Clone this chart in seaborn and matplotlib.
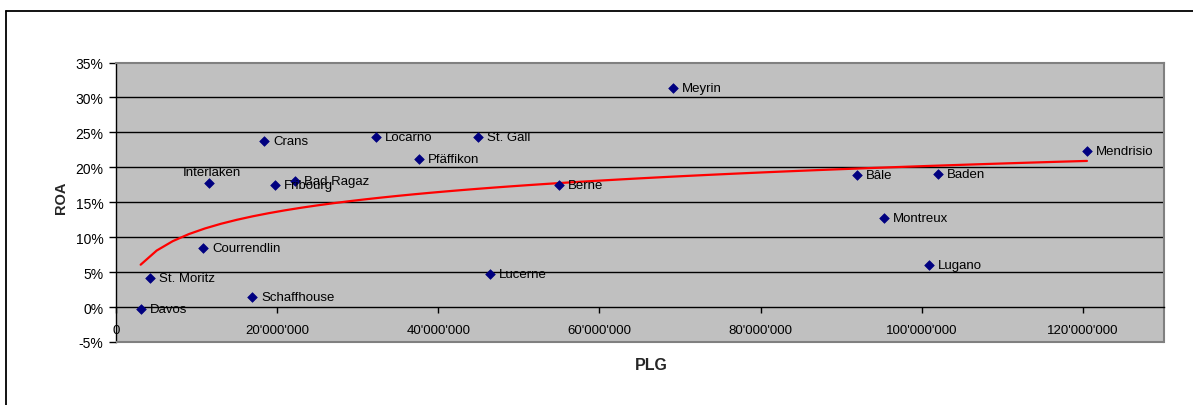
import numpy as np
import pandas as pd
import matplotlib
matplotlib.use("Agg")
import matplotlib.pyplot as plt
from matplotlib.lines import Line2D
from matplotlib.patches import Rectangle
from matplotlib.ticker import FuncFormatter, MultipleLocator
import seaborn as sns

# Casino sites: gross gaming revenue (PLG, CHF) against return on assets (ROA)
sites = ["Davos", "St. Moritz", "Courrendlin", "Interlaken", "Schaffhouse",
         "Crans", "Fribourg", "Bad Ragaz", "Locarno", "Pfäffikon",
         "St. Gall", "Lucerne", "Berne", "Meyrin", "Bâle", "Montreux",
         "Lugano", "Baden", "Mendrisio"]
plg = [3.06e6, 4.2e6, 10.8e6, 11.6e6, 16.9e6,
       18.4e6, 19.7e6, 22.2e6, 32.3e6, 37.6e6,
       44.9e6, 46.4e6, 55.0e6, 69.1e6, 92.0e6, 95.3e6,
       100.9e6, 102.0e6, 120.5e6]
roa = [-0.003, 0.041, 0.085, 0.177, 0.015,
       0.238, 0.174, 0.181, 0.244, 0.212,
       0.244, 0.048, 0.174, 0.313, 0.189, 0.127,
       0.060, 0.190, 0.224]

df = pd.DataFrame({"site": sites, "PLG": plg, "ROA": roa})

# Logarithmic trend: ROA = a*ln(PLG) + b
a, b = np.polyfit(np.log(df["PLG"]), df["ROA"], 1)
xs = np.linspace(df["PLG"].min(), df["PLG"].max(), 60)
trend = pd.DataFrame({"PLG": xs, "ROA": a * np.log(xs) + b})

sns.set_style("white")
plt.rcParams["font.family"] = ["Liberation Sans", "DejaVu Sans"]

W, H = 1193, 406
fig = plt.figure(figsize=(W / 100, H / 100), dpi=100)
ax = fig.add_axes([116 / W, 1 - 343 / H, (1163.5 - 116) / W, (343 - 63.5) / H])
ax.set_facecolor("#C0C0C0")

# Outer chart frame (top and left edges fall inside the canvas)
frame_x, frame_y = 6.5 / W, 1 - 12 / H
fig.lines.append(Line2D([frame_x, 1.0], [frame_y, frame_y], transform=fig.transFigure,
                        color="black", linewidth=1.3))
fig.lines.append(Line2D([frame_x, frame_x], [0.0, frame_y], transform=fig.transFigure,
                        color="black", linewidth=1.3))

ax.set_xlim(0, 130e6)
ax.set_ylim(-0.05, 0.35)

for yv in np.arange(0.05, 0.31, 0.05):
    ax.axhline(yv, color="black", linewidth=1.0, zorder=1)

sns.lineplot(data=trend, x="PLG", y="ROA", ax=ax, color="red", linewidth=1.6,
             zorder=3, legend=False)
sns.scatterplot(data=df, x="PLG", y="ROA", ax=ax, marker="D", s=24,
                color="#000080", edgecolor="#000080", linewidth=0.5, zorder=4)

for name, xv, yv in zip(df["site"], df["PLG"], df["ROA"]):
    if name == "Interlaken":
        ax.annotate(name, (xv, yv), xytext=(2, 8), textcoords="offset points",
                    ha="center", va="center", fontsize=9.5, color="black", zorder=5)
    else:
        ax.annotate(name, (xv, yv), xytext=(6.5, 0), textcoords="offset points",
                    ha="left", va="center", fontsize=9.5, color="black", zorder=5)

# Axes: y axis on the left, x axis crossing at ROA = 0
for side in ["top", "right"]:
    ax.spines[side].set_visible(True)
    ax.spines[side].set_color("#808080")
    ax.spines[side].set_linewidth(1.5)
ax.spines["left"].set_color("black")
ax.spines["left"].set_linewidth(1.0)
ax.spines["bottom"].set_position(("data", 0))
ax.spines["bottom"].set_color("black")
ax.spines["bottom"].set_linewidth(1.0)
ax.add_patch(Rectangle((0, 0), 1, 0, transform=ax.transAxes, fill=False,
                       edgecolor="#808080", linewidth=1.5, clip_on=False, zorder=6))

ax.xaxis.set_major_locator(MultipleLocator(20e6))
ax.yaxis.set_major_locator(MultipleLocator(0.05))
ax.xaxis.set_major_formatter(FuncFormatter(lambda v, p: f"{int(round(v)):,}".replace(",", "'")))
ax.yaxis.set_major_formatter(FuncFormatter(lambda v, p: f"{v * 100:.0f}%"))
ax.tick_params(axis="x", direction="out", length=4, width=1, color="black",
               labelsize=9.5, pad=8, labelcolor="black", bottom=True)
ax.tick_params(axis="y", direction="out", length=5, width=1, color="black",
               labelsize=10, pad=4, labelcolor="black", left=True)

ax.set_xlabel("")
ax.set_ylabel("")
fig.text(60.5 / W, 1 - 198 / H, "ROA", rotation=90, ha="center", va="center",
         fontsize=10.5, fontweight="bold")
fig.text(651.5 / W, 1 - 366 / H, "PLG", ha="center", va="center",
         fontsize=11.5, fontweight="bold")

fig.savefig("out.png", dpi=100, facecolor="white")
